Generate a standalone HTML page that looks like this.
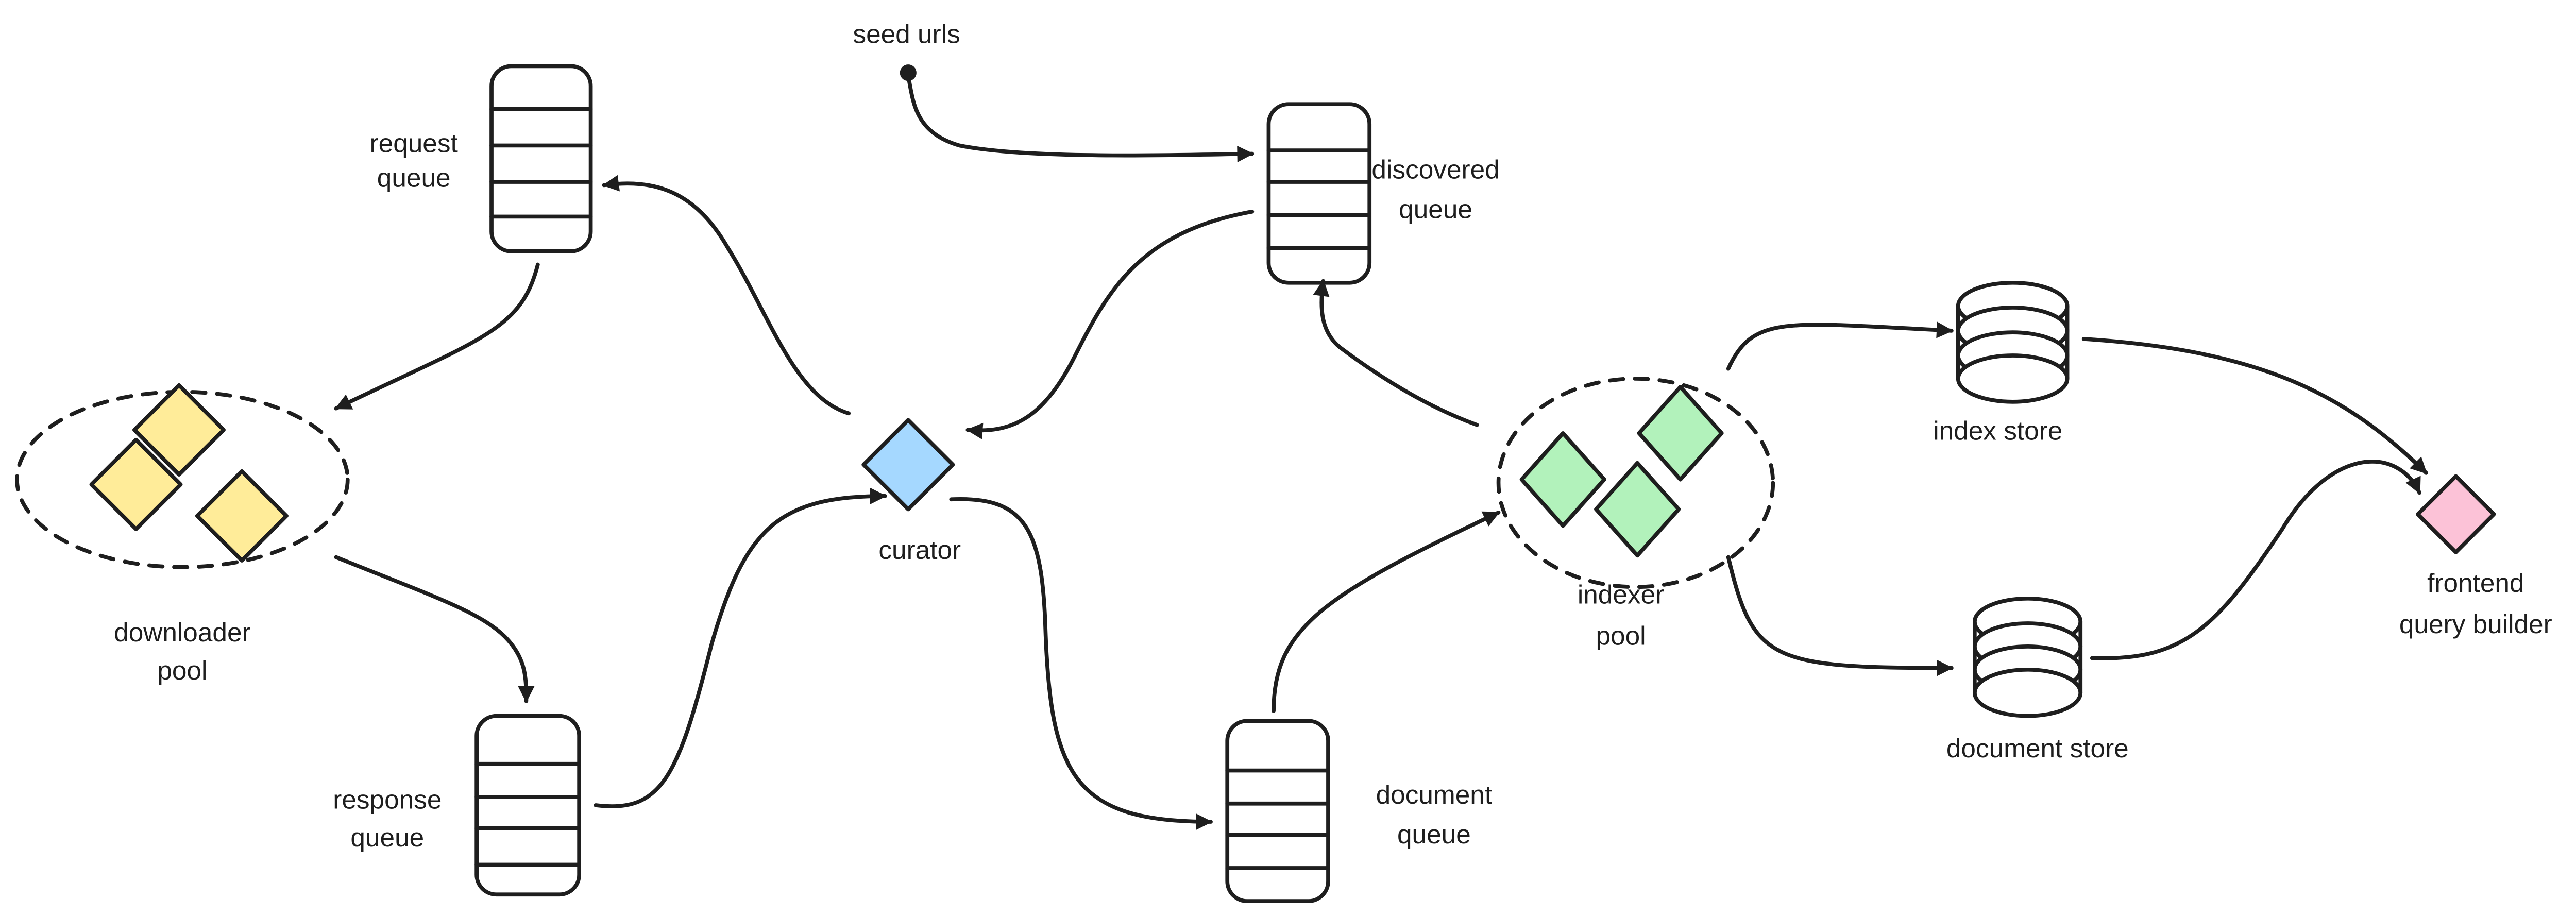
<!DOCTYPE html>
<html><head><meta charset="utf-8"><style>html,body{margin:0;padding:0;background:#fff}svg{display:block}</style></head>
<body>
<svg width="5034" height="1778" viewBox="0 0 1568 554" xmlns="http://www.w3.org/2000/svg">
<defs>
<marker id="a" viewBox="0 0 10 10" refX="9" refY="5" markerWidth="12" markerHeight="10" orient="auto-start-reverse" markerUnits="userSpaceOnUse">
<path d="M0,0 L10,5 L0,10 z" fill="#1e1e1e"/></marker>
</defs>
<rect width="1568" height="554" fill="#fff"/>
<g fill="none" stroke="#1e1e1e" stroke-width="2.4" stroke-linecap="round">
<rect x="297" y="40" width="60" height="112" rx="12"/>
<path d="M297 66H357M297 88H357M297 110H357M297 131H357"/>
<rect x="767" y="63" width="61" height="108" rx="12"/>
<path d="M767 91H828M767 110H828M767 130H828M767 150H828"/>
<rect x="288" y="433" width="62" height="108" rx="12"/>
<path d="M288 462H350M288 482H350M288 501H350M288 523H350"/>
<rect x="742" y="436" width="61" height="109" rx="12"/>
<path d="M742 466H803M742 486H803M742 505H803M742 525H803"/>
<ellipse cx="110" cy="290" rx="100" ry="53" stroke-dasharray="8 7"/>
<ellipse cx="989" cy="292" rx="83" ry="63" stroke-dasharray="8 7"/>
<g>
<ellipse cx="1217" cy="185" rx="33" ry="14" fill="#fff"/>
<ellipse cx="1217" cy="200" rx="33" ry="14" fill="#fff"/>
<ellipse cx="1217" cy="215" rx="33" ry="14" fill="#fff"/>
<ellipse cx="1217" cy="229" rx="33" ry="14" fill="#fff"/>
<path d="M1184 185V229M1250 185V229"/>
</g>
<g>
<ellipse cx="1226" cy="376" rx="32" ry="14" fill="#fff"/>
<ellipse cx="1226" cy="391" rx="32" ry="14" fill="#fff"/>
<ellipse cx="1226" cy="405" rx="32" ry="14" fill="#fff"/>
<ellipse cx="1226" cy="419" rx="32" ry="14" fill="#fff"/>
<path d="M1194 376V419M1258 376V419"/>
</g>
<g stroke-linejoin="round">
<path d="M82 266L109 293L82 320L55 293Z" fill="#ffec99"/>
<path d="M108 233L135 260L108 287L81 260Z" fill="#ffec99"/>
<path d="M146 285L173 312L146 339L119 312Z" fill="#ffec99"/>
<path d="M549 254L576 281L549 308L522 281Z" fill="#a5d8ff"/>
<path d="M945 262L970 290L945 318L920 290Z" fill="#b2f2bb"/>
<path d="M1016 234L1041 262L1016 290L991 262Z" fill="#b2f2bb"/>
<path d="M990 280L1015 308L990 336L965 308Z" fill="#b2f2bb"/>
<path d="M1485 288L1508 311L1485 334L1462 311Z" fill="#fcc2d7"/>
</g>
<path d="M549 46C552 60 552 80 580 88C620 96 700 94 757 93" marker-end="url(#a)"/>
<path d="M757 128C690 140 670 175 650 215C630 255 610 262 585 260" marker-end="url(#a)"/>
<path d="M513 250C480 240 465 190 440 150C420 115 395 108 365 112" marker-end="url(#a)"/>
<path d="M325 160C315 200 290 205 203 247" marker-end="url(#a)"/>
<path d="M203 337C260 360 290 370 305 385C318 398 318 410 318 424" marker-end="url(#a)"/>
<path d="M360 487C400 492 410 470 430 390C450 320 470 300 535 300" marker-end="url(#a)"/>
<path d="M575 302C620 300 630 320 632 380C635 470 650 497 732 497" marker-end="url(#a)"/>
<path d="M770 430C770 380 800 360 906 310" marker-end="url(#a)"/>
<path d="M893 257C860 245 830 225 810 210C798 200 798 185 800 170" marker-end="url(#a)"/>
<path d="M1045 223C1060 190 1080 195 1180 200" marker-end="url(#a)"/>
<path d="M1045 337C1060 400 1070 404 1180 404" marker-end="url(#a)"/>
<path d="M1260 205C1370 212 1420 240 1467 286" marker-end="url(#a)"/>
<path d="M1265 398C1320 400 1340 380 1380 320C1410 270 1450 270 1463 298" marker-end="url(#a)"/>
</g>
<circle cx="549" cy="44" r="5" fill="#1e1e1e"/>
<g font-family="'Liberation Sans', sans-serif" font-size="16" fill="#1e1e1e" text-anchor="middle">
<text x="548" y="26">seed urls</text>
<text x="250" y="92">request</text><text x="250" y="113">queue</text>
<text x="868" y="108">discovered</text><text x="868" y="132">queue</text>
<text x="110" y="388">downloader</text><text x="110" y="411">pool</text>
<text x="556" y="338">curator</text>
<text x="234" y="489">response</text><text x="234" y="512">queue</text>
<text x="867" y="486">document</text><text x="867" y="510">queue</text>
<text x="980" y="365">indexer</text><text x="980" y="390">pool</text>
<text x="1208" y="266">index store</text>
<text x="1232" y="458">document store</text>
<text x="1497" y="358">frontend</text><text x="1497" y="383">query builder</text>
</g>
</svg>
</body></html>
